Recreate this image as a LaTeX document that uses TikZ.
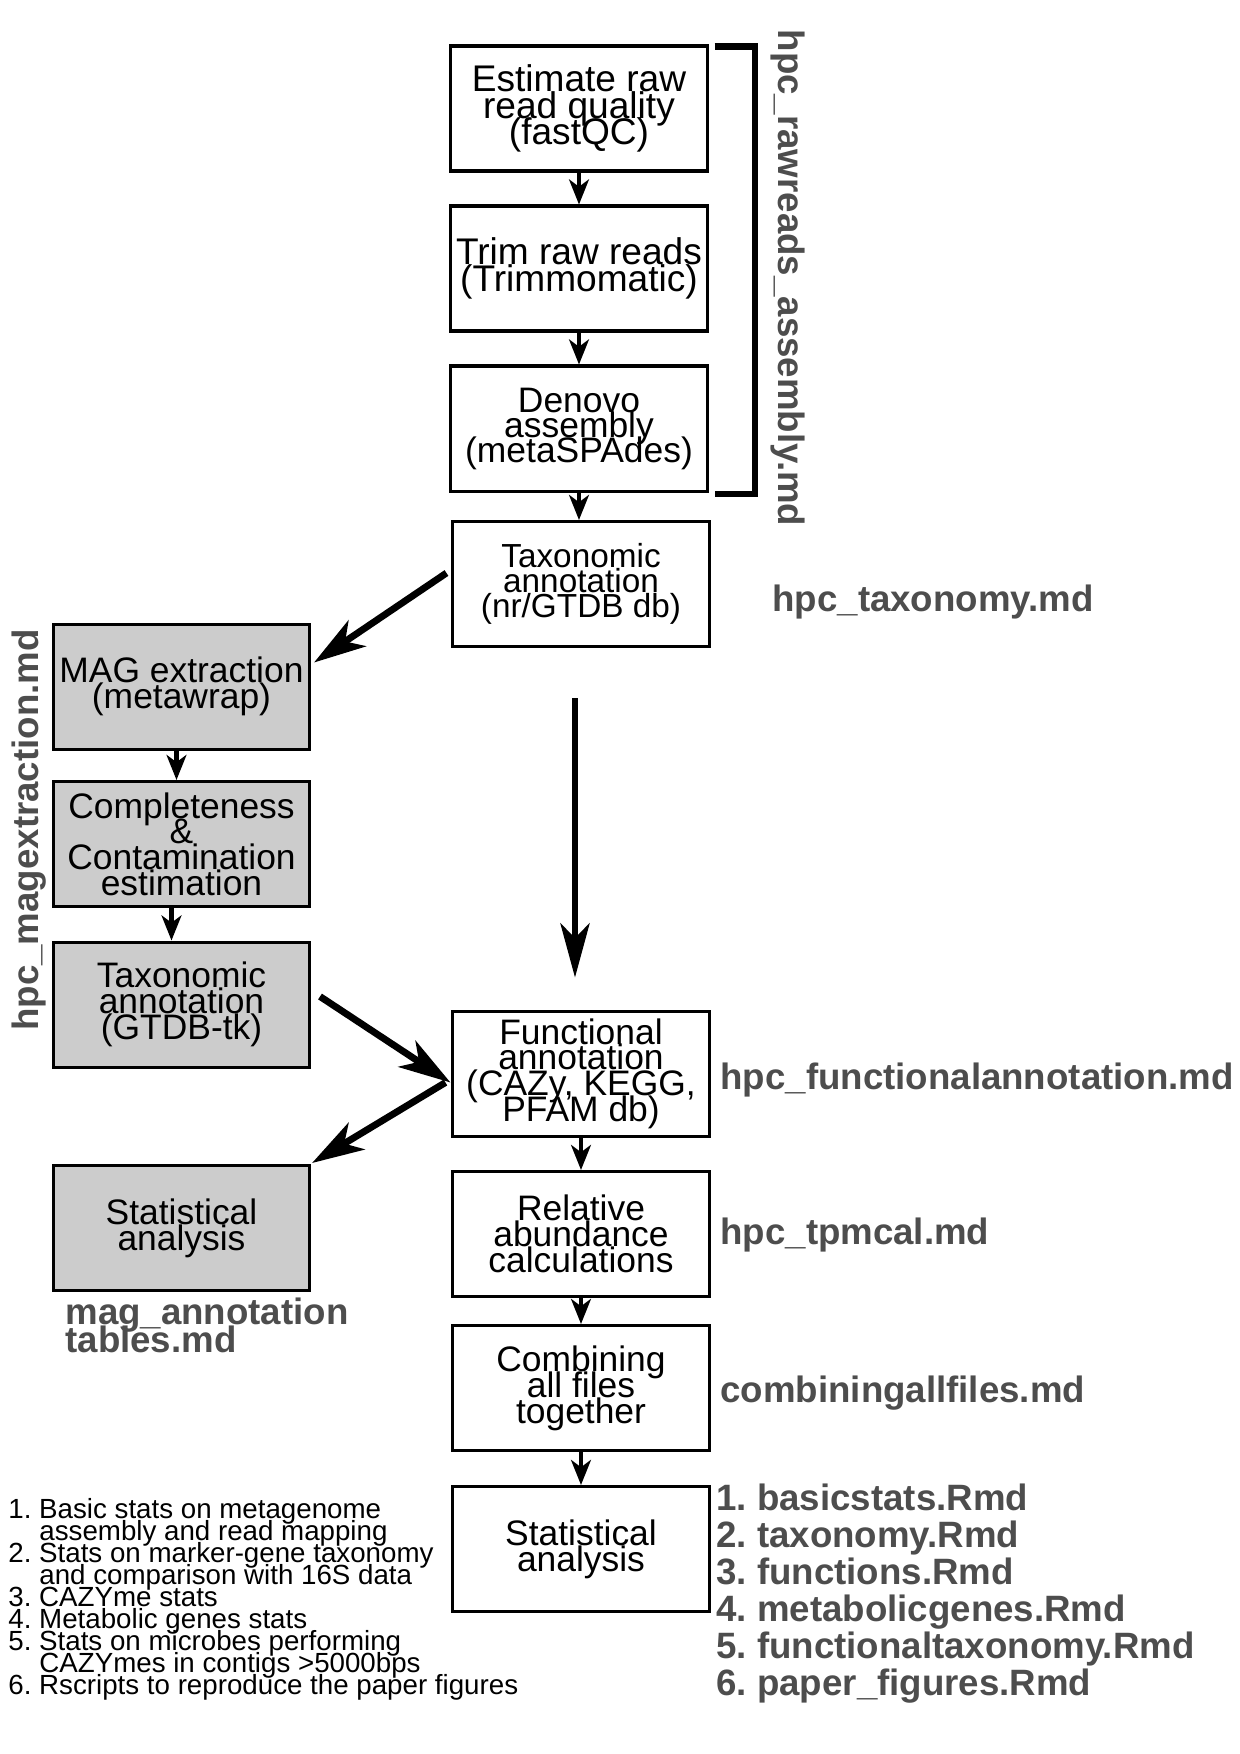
\documentclass[tikz,border=0pt]{standalone}
\usepackage{fontspec}
\setmainfont{Liberation Sans}
\usetikzlibrary{arrows.meta,calc}
\definecolor{lblgray}{RGB}{77,77,77}
\definecolor{boxgray}{RGB}{204,204,204}
\newcommand\bxfont[2]{\fontsize{#1}{#2}\selectfont\lineskiplimit=-40pt\relax}
\frenchspacing
\begin{document}
\frenchspacing
\begin{tikzpicture}[x=0.48pt,y=-0.48pt,
  box/.style={draw, line width=1.45pt, minimum width=122.9pt, minimum height=60pt,
    inner sep=0pt, align=center, font={\bxfont{17}{12.5}}},
  greybox/.style={box, fill=boxgray},
  smallarrow/.style={-{Stealth[length=12pt,width=9.5pt,inset=3.5pt]}, line width=2.2pt},
  bigarrow/.style={-{Stealth[length=25pt,width=15pt,inset=7pt]}, line width=3.3pt},
  bigvarrow/.style={-{Stealth[length=26pt,width=14pt,inset=7pt]}, line width=2.8pt},
  filelabel/.style={font={\fontsize{17.6}{17.6}\selectfont\bfseries\frenchspacing}, text=lblgray, inner sep=0pt},
  listline/.style={font={\fontsize{13.3}{13.3}\selectfont\frenchspacing}, inner sep=0pt, anchor=base west},
  bracketline/.style={line width=2.9pt}
]
\useasboundingbox (0,0) rectangle (1240,1754);

% right column
\node[box, font={\bxfont{17.8}{12.8}}] (e1) at (579,108.5) {Estimate raw\\read quality\\(fastQC)};
\node[box, font={\bxfont{17.8}{12.8}}] (e2) at (579,268.5) {Trim raw reads\\(Trimmomatic)};
\node[box, font={\bxfont{17}{12}}] (e3) at (579,428.5) {Denovo\\assembly\\(metaSPAdes)};
\node[box, font={\bxfont{16}{12}}] (t4) at (581,584) {Taxonomic\\annotation\\(nr/GTDB db)};
\node[box, font={\bxfont{17}{12.3}}] (f) at (581,1073.5) {Functional\\annotation\\(CAZy, KEGG,\\PFAM db)};
\node[box] (r) at (581,1234) {Relative\\abundance\\calculations};
\node[box] (c) at (581,1388) {Combining\\all files\\together};
\node[box] (s) at (581,1549) {Statistical\\analysis};

% left column
\node[greybox] (m) at (181.5,686.5) {MAG extraction\\(metawrap)};
\node[greybox, font={\bxfont{17}{12.3}}] (cc) at (181.5,844) {Completeness\\\&\\Contamination\\estimation};
\node[greybox] (g) at (181.5,1004.5) {Taxonomic\\annotation\\(GTDB-tk)};
\node[greybox] (sl) at (181.5,1228) {Statistical\\analysis};

% small arrows
\draw[smallarrow] (e1.south) -- (e2.north);
\draw[smallarrow] (e2.south) -- (e3.north);
\draw[smallarrow] (e3.south) -- (e3.south |- t4.north);
\draw[smallarrow] ($(m.south)+(-5,0)$) -- ($(cc.north)+(-5,0)$);
\draw[smallarrow] ($(cc.south)+(-10,0)$) -- ($(g.north)+(-10,0)$);
\draw[smallarrow] (f.south) -- (f.south |- r.north);
\draw[smallarrow] (r.south) -- (c.north);
\draw[smallarrow] (c.south) -- (s.north);

% big arrows
\draw[bigarrow] ($(t4.west)+(-5,-11)$) -- ($(m.east)+(3,-24)$);
\draw[bigvarrow] ($(t4.south)+(-6,50)$) -- ($(f.north)+(-6,-32)$);
\draw[bigarrow] ($(g.east)+(9,-8)$) -- ($(f.west)+(-1,9)$);
\draw[bigarrow] ($(f.west)+(-6,9)$) -- ($(sl.north east)+(1,-1)$);

% bracket
\draw[bracketline] ($(e1.north east)+(6,2)$) -| ($(e3.south east)+(46,1)$) -- ($(e3.south east)+(6,1)$);

% file labels
\node[filelabel, rotate=-90, anchor=base] (lraw) at (778,278) {hpc\_rawreads\_assembly.md};
\node[filelabel, anchor=base west] (ltax) at (772,611) {hpc\_taxonomy.md};
\node[filelabel, rotate=90, anchor=base] (lmag) at (38,830) {hpc\_magextraction.md};
\node[filelabel, anchor=base west] (lfun) at (720,1089) {hpc\_functionalannotation.md};
\node[filelabel, anchor=base west] (ltpm) at (720,1244) {hpc\_tpmcal.md};
\node[filelabel, anchor=base west] (lcomb) at (720,1402) {combiningallfiles.md};
\node[filelabel, anchor=base west] (lmagann1) at (65,1324) {mag\_annotation};
\node[filelabel, anchor=base west] (lmagann2) at (65,1352) {tables.md};

% Rmd list
\node[filelabel, anchor=base west] (rm1) at (716,1510) {1. basicstats.Rmd};
\node[filelabel, anchor=base west] (rm2) at (716,1547) {2. taxonomy.Rmd};
\node[filelabel, anchor=base west] (rm3) at (716,1584) {3. functions.Rmd};
\node[filelabel, anchor=base west] (rm4) at (716,1621) {4. metabolicgenes.Rmd};
\node[filelabel, anchor=base west] (rm5) at (716,1658) {5. functionaltaxonomy.Rmd};
\node[filelabel, anchor=base west] (rm6) at (716,1695) {6. paper\_figures.Rmd};

% description list
\node[listline] (d1) at (8,1518) {1. Basic stats on metagenome};
\node[listline] (d2) at (39,1540) {assembly and read mapping};
\node[listline] (d3) at (8,1562) {2. Stats on marker-gene taxonomy};
\node[listline] (d4) at (39,1584) {and comparison with 16S data};
\node[listline] (d5) at (8,1606) {3. CAZYme stats};
\node[listline] (d6) at (8,1628) {4. Metabolic genes stats};
\node[listline] (d7) at (8,1650) {5. Stats on microbes performing};
\node[listline] (d8) at (39,1672) {CAZYmes in contigs >5000bps};
\node[listline] (d9) at (8,1694) {6. Rscripts to reproduce the paper figures};
\end{tikzpicture}
\end{document}
